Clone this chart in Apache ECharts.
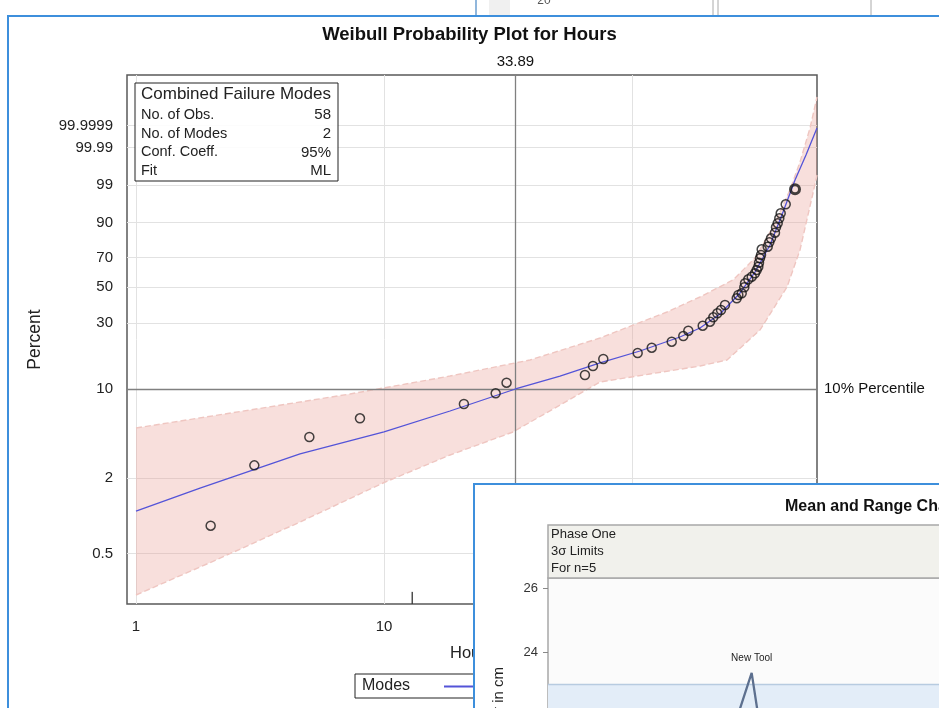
<!DOCTYPE html>
<html><head><meta charset="utf-8">
<script src="https://cdn.jsdelivr.net/npm/echarts@6/dist/echarts.min.js"></script>
<style>html,body{margin:0;padding:0;background:#fff}#c{width:939px;height:708px}</style>
</head><body><div id="c"></div>
<script>
// ---------- data ----------
const yTickPercents = [0.5, 2, 10, 30, 50, 70, 90, 99, 99.99, 99.9999];
const yTickLabels = ['0.5', '2', '10', '30', '50', '70', '90', '99', '99.99', '99.9999'];
const xTickHours = [1, 10, 100];
const xTickLabels = ['1', '10', '100'];

const obsHours = [2.0, 3.0, 5.0, 8.0, 21.0, 28.2, 31.2, 64.6, 69.6, 76.6, 105.4, 120.1, 144.6, 161.0, 168.7, 192.8, 206.3, 212.7, 220.8, 228.5, 237.1, 264.4, 268.4, 276.9, 283.7, 285.5, 294.4, 303.9, 313.3, 318.3, 323.1, 325.2, 328.2, 331.3, 333.4, 352.5, 357.8, 363.5, 377.2, 380.7, 386.8, 392.6, 397.7, 416.7, 454.3];
const obsPercent = [0.835, 2.53, 4.24, 5.94, 7.67, 9.27, 11.17, 12.76, 14.89, 16.78, 18.55, 20.26, 22.35, 24.51, 26.66, 28.84, 30.67, 32.80, 34.82, 36.56, 39.30, 43.17, 45.16, 46.20, 49.98, 52.57, 55.22, 56.96, 59.25, 61.49, 63.74, 66.46, 69.44, 71.63, 75.34, 76.99, 79.69, 82.03, 85.10, 87.81, 89.63, 91.68, 93.46, 96.01, 98.58];

const fitHours = [1, 1.812, 4.586, 10, 18.46, 33.89, 51.25, 74.3, 107.7, 156.1, 188.0, 226.3, 272.6, 313.3, 360.2, 406.4, 454.3, 503.0, 557.2];
const fitPercent = [1.093, 1.669, 3.113, 4.641, 6.770, 10.0, 12.54, 15.68, 19.18, 24.12, 27.82, 34.47, 46.39, 60.13, 78.05, 93.88, 99.361, 99.9674, 99.99982];

const upperHours = [1, 2.882, 7.293, 18.46, 38.79, 74.3, 138.4, 188.0, 255.5, 313.3, 370.3, 433.6, 475.8, 522.2, 557.2];
const upperPercent = [4.989, 6.892, 9.157, 12.54, 16.50, 23.73, 35.50, 43.95, 54.75, 69.64, 87.95, 98.50, 99.9135, 99.99982, 99.9999999938];

const lowerHours = [1, 2.101, 4.586, 9.91, 18.46, 33.13, 51.25, 74.3, 118.2, 188.0, 241.6, 328.2, 421.7, 475.8, 536.9, 557.2];
const lowerPercent = [0.2319, 0.4428, 0.8936, 1.831, 3.056, 4.641, 7.535, 11.30, 12.99, 14.89, 16.50, 26.96, 50.17, 74.90, 98.12, 99.609];

const percentileLevel = 10;
const percentileHours = 33.89;
const tickMarkHours = [13];
const tickMarkPercent = [0.22];

const statsLabels = ['No. of Obs.', 'No. of Modes', 'Conf. Coeff.', 'Fit'];
const statsValues = ['58', '2', '95%', 'ML'];

// second (overlapping) chart
const meanSubgroups = [16, 17, 18];
const meanValues = [22.2, 23.35, 20.9];
const meanUCL = 23.0;
const meanTicks = [22, 24, 26];

// ---------- transforms (Weibull probability scale, log10 hours) ----------
const wb = p => Math.log(-Math.log(1 - p / 100));
const lg = h => Math.log10(h);
const pairs = (hs, ps) => hs.map((h, i) => [lg(h), wb(ps[i])]);

const FONT = "'Liberation Sans', Arial, sans-serif";
const BLUE = '#5454d8';
const WIN = '#3d8fdc';

const obsData = pairs(obsHours, obsPercent).map((v, i, a) =>
  i === a.length - 1 ? { value: v, itemStyle: { borderWidth: 3 } } : v);
const upperData = pairs(upperHours, upperPercent);
const lowerData = pairs(lowerHours, lowerPercent);

const MEAN_MAX = 26.3125, MEAN_MIN = 26.3125 - 133 / 32;

const chart = echarts.init(document.getElementById('c'));
chart.setOption({
  animation: false,
  backgroundColor: '#fff',
  textStyle: { fontFamily: FONT },
  title: {
    text: 'Weibull Probability Plot for Hours',
    left: 'center', top: 20,
    textStyle: { fontSize: 18.5, fontWeight: 'bold', color: '#111', fontFamily: FONT }
  },
  grid: [
    { left: 127, top: 75, width: 690, height: 529, outerBoundsMode: 'none', show: true, borderColor: '#5a5a5a', borderWidth: 1.5, backgroundColor: '#fff' },
    { left: 548, top: 578, right: -3, bottom: -3, outerBoundsMode: 'none', show: true, borderColor: '#a8a8a8', borderWidth: 1.5, backgroundColor: '#fbfbfb', z: 55 }
  ],
  xAxis: [
    {
      type: 'value', gridIndex: 0, min: -9 / 248, max: 681 / 248,
      name: 'Hours', nameLocation: 'middle', nameGap: 41,
      nameTextStyle: { fontSize: 16.5, color: '#222', fontFamily: FONT },
      axisLine: { show: false },
      splitLine: { show: false },
      axisTick: { show: true, length: 6, lineStyle: { color: '#444' }, customValues: xTickHours.map(lg) },
      axisLabel: {
        fontSize: 15, color: '#222', margin: 15, customValues: xTickHours.map(lg),
        formatter: v => { const i = xTickHours.findIndex(h => Math.abs(lg(h) - v) < 1e-6); return i >= 0 ? xTickLabels[i] : ''; }
      }
    },
    {
      type: 'value', gridIndex: 1, min: 0, max: 394 / 11.98, z: 60,
      axisLine: { show: false }, axisTick: { show: false }, axisLabel: { show: false }, splitLine: { show: false }
    }
  ],
  yAxis: [
    {
      type: 'value', gridIndex: 0, min: -2.2504 - 215 / 54, max: -2.2504 + 314 / 54,
      name: 'Percent', nameLocation: 'middle', nameGap: 83,
      nameTextStyle: { fontSize: 17.5, color: '#222', fontFamily: FONT },
      axisLine: { show: false },
      splitLine: { show: false },
      axisTick: { show: true, length: 7, lineStyle: { color: '#444' }, customValues: yTickPercents.map(wb) },
      axisLabel: {
        fontSize: 15, color: '#222', margin: 14, customValues: yTickPercents.map(wb),
        formatter: v => { const i = yTickPercents.findIndex(p => Math.abs(wb(p) - v) < 1e-6); return i >= 0 ? yTickLabels[i] : ''; }
      }
    },
    {
      type: 'value', gridIndex: 1, min: MEAN_MIN, max: MEAN_MAX, z: 60,
      axisLine: { show: false }, splitLine: { show: false },
      axisTick: { show: true, length: 5, lineStyle: { color: '#888' }, customValues: meanTicks },
      axisLabel: { fontSize: 13, color: '#333', margin: 10, customValues: meanTicks }
    }
  ],
  legend: {
    left: 439, top: 674, itemWidth: 34, itemHeight: 2, icon: 'rect', z: 4,
    data: ['Combined'], textStyle: { fontSize: 15, color: '#222' }
  },
  series: [
    {
      type: 'custom', name: 'band', xAxisIndex: 0, yAxisIndex: 0, z: 1, clip: true, silent: true,
      data: [0],
      renderItem: (params, api) => {
        const pts = upperData.map(d => api.coord(d)).concat(lowerData.slice().reverse().map(d => api.coord(d)));
        return { type: 'polygon', shape: { points: pts }, style: { fill: 'rgba(232,150,140,0.30)', stroke: 'none' } };
      }
    },
    {
      type: 'line', name: 'upper', xAxisIndex: 0, yAxisIndex: 0, z: 2, data: upperData, symbol: 'none', silent: true,
      lineStyle: { color: '#efc6c1', width: 1.4, type: [6, 3] },
      markLine: {
        silent: true, symbol: 'none', label: { show: false }, z: 1,
        lineStyle: { color: '#e2e2e2', width: 1, type: 'solid' },
        data: yTickPercents.map(p => ({ yAxis: wb(p) })).concat(xTickHours.map(h => ({ xAxis: lg(h) })))
      }
    },
    {
      type: 'line', name: 'lower', xAxisIndex: 0, yAxisIndex: 0, z: 2, data: lowerData, symbol: 'none', silent: true,
      lineStyle: { color: '#efc6c1', width: 1.4, type: [6, 3] }
    },
    {
      type: 'line', name: 'Combined', xAxisIndex: 0, yAxisIndex: 0, z: 3, data: pairs(fitHours, fitPercent), symbol: 'none',
      itemStyle: { color: BLUE }, lineStyle: { color: BLUE, width: 1.3 },
      markLine: {
        silent: true, symbol: 'none', z: 3,
        lineStyle: { color: '#808080', width: 1.3, type: 'solid' },
        data: [
          { yAxis: wb(percentileLevel), label: { show: true, position: 'end', distance: 7, formatter: '10% Percentile', fontSize: 15, color: '#111' } },
          { xAxis: lg(percentileHours), label: { show: true, position: 'end', distance: 6, formatter: String(percentileHours), fontSize: 15, color: '#111' } }
        ]
      }
    },
    {
      type: 'scatter', name: 'obs', xAxisIndex: 0, yAxisIndex: 0, z: 4, data: obsData, symbol: 'circle', symbolSize: 9,
      itemStyle: { color: 'rgba(255,255,255,0)', borderColor: '#151515', borderWidth: 1.5 }
    },
    {
      type: 'scatter', name: 'tick', xAxisIndex: 0, yAxisIndex: 0, z: 4, symbol: 'rect', symbolSize: [1.5, 12],
      data: tickMarkHours.map((h, i) => [lg(h), wb(tickMarkPercent[i])]), itemStyle: { color: '#222' }
    },
    {
      type: 'line', name: 'mean', xAxisIndex: 1, yAxisIndex: 1, z: 62, symbol: 'none',
      data: meanSubgroups.map((s, i) => [s, meanValues[i]]),
      lineStyle: { color: '#5d708f', width: 2.3 },
      markArea: { silent: true, z: 57, itemStyle: { color: '#e3edf8' }, data: [[{ yAxis: meanUCL }, { yAxis: MEAN_MIN }]] },
      markLine: { silent: true, z: 58, symbol: 'none', label: { show: false }, lineStyle: { color: '#b7cbe0', width: 1.3, type: 'solid' }, data: [{ yAxis: meanUCL }] },
      markPoint: {
        silent: true, z: 66, symbol: 'circle', symbolSize: 1, itemStyle: { color: 'rgba(0,0,0,0)' },
        data: [{ coord: [17, 23.35], label: { show: true, position: 'top', distance: 9, formatter: 'New Tool', fontSize: 10, color: '#222' } }]
      }
    }
  ],
  graphic: [
    // window behind (top strip)
    { type: 'line', shape: { x1: 476, y1: 0, x2: 476, y2: 16 }, style: { stroke: '#6c9fd0', lineWidth: 1.5 }, z: 1 },
    { type: 'rect', shape: { x: 489, y: 0, width: 21, height: 16 }, style: { fill: '#f0f0f0' }, z: 1 },
    { type: 'text', x: 544, y: 1, style: { text: '20', fontSize: 12, fill: '#555', align: 'center', verticalAlign: 'middle', fontFamily: FONT }, z: 1 },
    { type: 'line', shape: { x1: 713, y1: 0, x2: 713, y2: 16 }, style: { stroke: '#aaa', lineWidth: 1 }, z: 1 },
    { type: 'line', shape: { x1: 718, y1: 0, x2: 718, y2: 16 }, style: { stroke: '#aaa', lineWidth: 1 }, z: 1 },
    { type: 'line', shape: { x1: 871, y1: 0, x2: 871, y2: 16 }, style: { stroke: '#aaa', lineWidth: 1 }, z: 1 },
    // main window border
    { type: 'polyline', shape: { points: [[8, 708], [8, 16], [939, 16]] }, style: { stroke: WIN, lineWidth: 2, fill: 'none' }, z: 10 },
    // stats box
    { type: 'rect', shape: { x: 135, y: 83, width: 203, height: 98 }, style: { fill: 'rgba(255,255,255,0.9)', stroke: '#222', lineWidth: 1 }, z: 20 },
    { type: 'text', x: 141, y: 94, style: { text: 'Combined Failure Modes', fontSize: 17, fill: '#222', verticalAlign: 'middle', fontFamily: FONT }, z: 21 },
    ...statsLabels.map((t, i) => ({ type: 'text', x: 141, y: 115 + i * 18.7, style: { text: t, fontSize: 14.5, fill: '#222', verticalAlign: 'middle', fontFamily: FONT }, z: 21 })),
    ...statsValues.map((t, i) => ({ type: 'text', x: 331, y: 115 + i * 18.7, style: { text: t, fontSize: 15, fill: '#222', align: 'right', verticalAlign: 'middle', fontFamily: FONT }, z: 21 })),
    // legend frame
    { type: 'rect', shape: { x: 355, y: 674, width: 240, height: 24 }, style: { fill: 'none', stroke: '#222', lineWidth: 1 }, z: 20 },
    { type: 'text', x: 362, y: 686, style: { text: 'Modes', fontSize: 16, fill: '#222', verticalAlign: 'middle', fontFamily: FONT }, z: 21 },
    // overlapping window
    { type: 'rect', shape: { x: 474, y: 484, width: 600, height: 400 }, style: { fill: '#fff', stroke: WIN, lineWidth: 2 }, z: 50 },
    { type: 'text', x: 785, y: 507, style: { text: 'Mean and Range Chart for Diameter', fontSize: 16, fontWeight: 'bold', fill: '#111', verticalAlign: 'middle', fontFamily: FONT }, z: 70 },
    { type: 'rect', shape: { x: 548, y: 525, width: 600, height: 53 }, style: { fill: '#f1f1ec', stroke: '#a8a8a8', lineWidth: 1.5 }, z: 56 },
    { type: 'text', x: 551, y: 534, style: { text: 'Phase One', fontSize: 13, fill: '#222', verticalAlign: 'middle', fontFamily: FONT }, z: 70 },
    { type: 'text', x: 551, y: 551, style: { text: '3σ Limits', fontSize: 13, fill: '#222', verticalAlign: 'middle', fontFamily: FONT }, z: 70 },
    { type: 'text', x: 551, y: 568, style: { text: 'For n=5', fontSize: 13, fill: '#222', verticalAlign: 'middle', fontFamily: FONT }, z: 70 },
    { type: 'text', x: 499, y: 667, rotation: Math.PI / 2, style: { text: 'Mean Diameter in cm', fontSize: 15, fill: '#222', align: 'right', verticalAlign: 'middle', fontFamily: FONT }, z: 70 }
  ]
});
</script></body></html>
